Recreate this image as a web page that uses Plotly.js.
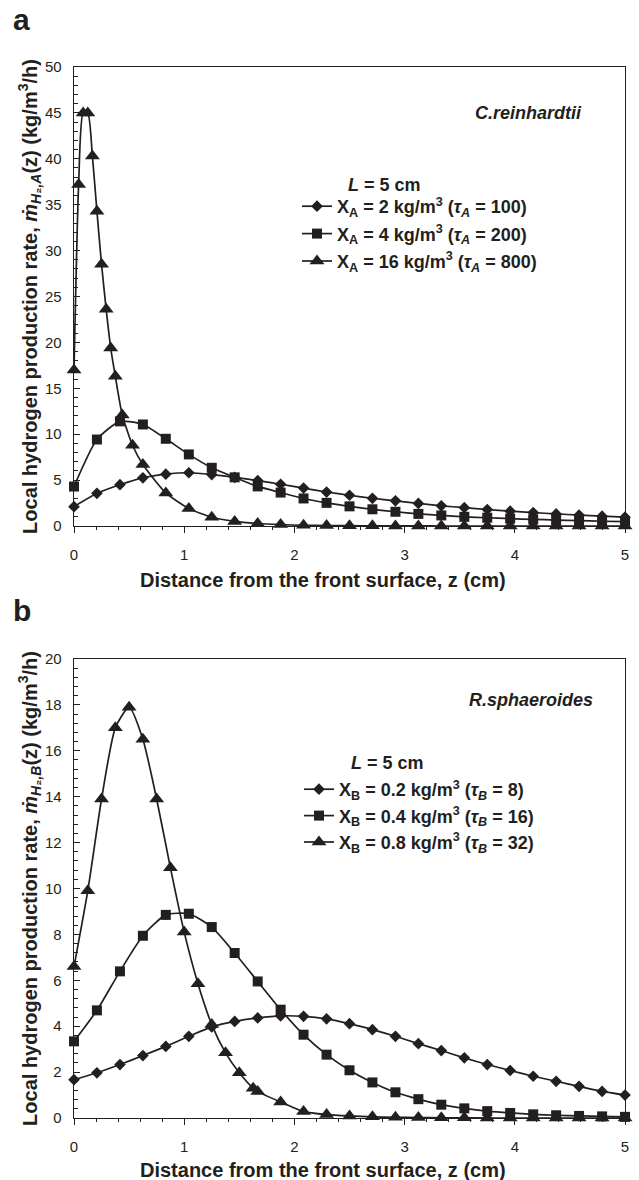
<!DOCTYPE html>
<html>
<head>
<meta charset="utf-8">
<script src="https://cdn.plot.ly/plotly-3.0.1.min.js"></script>
<style>html,body{margin:0;padding:0;background:#fff;}#chart{width:639px;height:1180px;}</style>
</head>
<body>
<div id="chart"></div>
<script>
// ---------- DATA ----------
// common z grid (cm)
const zGrid = [0, 0.208, 0.417, 0.625, 0.833, 1.042, 1.25, 1.458, 1.667, 1.875, 2.083, 2.292, 2.5, 2.708, 2.917, 3.125, 3.333, 3.542, 3.75, 3.958, 4.167, 4.375, 4.583, 4.792, 5];

// Panel a: C.reinhardtii
const zA16 = [0, 0.042, 0.083, 0.125, 0.167, 0.208, 0.25, 0.292, 0.333, 0.375, 0.438, 0.531, 0.625, 0.833, 1.042, 1.25, 1.458, 1.667, 1.875, 2.083, 2.292, 2.5, 2.708, 2.917, 3.125, 3.333, 3.542, 3.75, 3.958, 4.167, 4.375, 4.583, 4.792, 5];
const rateA2  = [2.1, 3.56, 4.5, 5.25, 5.65, 5.8, 5.6, 5.3, 4.95, 4.55, 4.13, 3.7, 3.35, 3.02, 2.74, 2.46, 2.2, 2.0, 1.8, 1.62, 1.46, 1.32, 1.19, 1.07, 0.96];
const rateA4  = [4.3, 9.42, 11.4, 11.06, 9.5, 7.8, 6.34, 5.3, 4.31, 3.64, 3.0, 2.52, 2.14, 1.82, 1.55, 1.32, 1.15, 1.0, 0.9, 0.8, 0.72, 0.65, 0.58, 0.52, 0.47];
const rateA16 = [17.0, 37.2, 45.0, 45.0, 40.3, 34.3, 28.5, 23.6, 19.4, 16.3, 12.1, 8.8, 6.7, 3.6, 1.9, 0.95, 0.5, 0.27, 0.15, 0.08, 0.05, 0.03, 0.02, 0.01, 0.01, 0, 0, 0, 0, 0, 0, 0, 0, 0];

// Panel b: R.sphaeroides
const zB08 = [0, 0.125, 0.25, 0.375, 0.5, 0.625, 0.75, 0.875, 1.0, 1.125, 1.25, 1.375, 1.5, 1.625, 1.667, 1.875, 2.083, 2.292, 2.5, 2.708, 2.917, 3.125, 3.333, 3.542, 3.75, 3.958, 4.167, 4.375, 4.583, 4.792, 5];
const rateB02 = [1.67, 1.97, 2.33, 2.72, 3.12, 3.56, 3.97, 4.21, 4.36, 4.45, 4.43, 4.32, 4.11, 3.85, 3.56, 3.24, 2.94, 2.62, 2.33, 2.07, 1.82, 1.6, 1.38, 1.16, 1.0];
const rateB04 = [3.34, 4.69, 6.39, 7.94, 8.85, 8.9, 8.32, 7.19, 5.95, 4.72, 3.63, 2.76, 2.08, 1.55, 1.12, 0.82, 0.58, 0.42, 0.3, 0.22, 0.16, 0.12, 0.09, 0.07, 0.05];
const rateB08 = [6.6, 9.9, 13.9, 17.0, 17.9, 16.5, 13.9, 10.9, 8.1, 5.85, 4.07, 2.84, 1.97, 1.3, 1.15, 0.7, 0.28, 0.15, 0.09, 0.05, 0.03, 0.02, 0.01, 0.01, 0, 0, 0, 0, 0, 0, 0];

const namesA = ['X<sub>A</sub> = 2 kg/m<sup>3</sup> (<i>τ</i><sub><i>A</i></sub> = 100)',
                'X<sub>A</sub> = 4 kg/m<sup>3</sup> (<i>τ</i><sub><i>A</i></sub> = 200)',
                'X<sub>A</sub> = 16 kg/m<sup>3</sup> (<i>τ</i><sub><i>A</i></sub> = 800)'];
const namesB = ['X<sub>B</sub> = 0.2 kg/m<sup>3</sup> (<i>τ</i><sub><i>B</i></sub> = 8)',
                'X<sub>B</sub> = 0.4 kg/m<sup>3</sup> (<i>τ</i><sub><i>B</i></sub> = 16)',
                'X<sub>B</sub> = 0.8 kg/m<sup>3</sup> (<i>τ</i><sub><i>B</i></sub> = 32)'];
const xTickVals = [0, 1, 2, 3, 4, 5];

// ---------- STYLE ----------
const INK = '#231f20';
const FONT = 'Liberation Sans, Arial, Helvetica, sans-serif';
const symbols = ['diamond', 'square', 'triangle-up'];
const sizes = [9, 10, 13];

function mk(x, y, i, name, xa, ya, leg, grp) {
  return {
    x: x, y: y, name: name, type: 'scatter', mode: 'lines+markers',
    xaxis: xa, yaxis: ya, legend: leg, legendgroup: grp,
    line: {color: INK, width: 1.7, shape: 'spline', smoothing: 0.6},
    marker: {symbol: symbols[i], size: sizes[i], color: INK, line: {width: 0}},
    cliponaxis: false, hoverinfo: 'x+y'
  };
}

const data = [
  mk(zGrid, rateA2, 0, namesA[0], 'x', 'y', 'legend', 'a0'),
  mk(zGrid, rateA4, 1, namesA[1], 'x', 'y', 'legend', 'a1'),
  mk(zA16, rateA16, 2, namesA[2], 'x', 'y', 'legend', 'a2'),
  mk(zGrid, rateB02, 0, namesB[0], 'x2', 'y2', 'legend2', 'b0'),
  mk(zGrid, rateB04, 1, namesB[1], 'x2', 'y2', 'legend2', 'b1'),
  mk(zB08, rateB08, 2, namesB[2], 'x2', 'y2', 'legend2', 'b2')
];

const L = 74, R = 14, T = 67, B = 62, W = 639, H = 1180;
const PW = W - L - R, PH = H - T - B;
const px = v => (v - L) / PW;
const py = v => 1 - (v - T) / PH;

function xax(anchor) {
  return {
    anchor: anchor, domain: [0, 1], range: [0, 5], tickvals: xTickVals,
    ticks: 'outside', ticklen: 6, tickwidth: 1, tickcolor: INK,
    minor: {dtick: 0.2, tick0: 0, ticks: 'outside', ticklen: 3, tickwidth: 1, tickcolor: INK},
    ticklabelstandoff: 9,
    showline: true, mirror: true, linecolor: INK, linewidth: 1.3,
    showgrid: false, zeroline: false,
    tickfont: {family: FONT, size: 15, color: INK}
  };
}
function yax(anchor, dom, range, dtick, minorD, title) {
  return {
    anchor: anchor, domain: dom, range: range, dtick: dtick,
    ticks: 'inside', ticklen: 6, tickwidth: 1, tickcolor: INK,
    minor: {dtick: minorD, ticks: 'inside', ticklen: 4, tickwidth: 1, tickcolor: INK},
    ticklabelstandoff: 8,
    showline: true, mirror: true, linecolor: INK, linewidth: 1.3,
    showgrid: false, zeroline: false,
    tickfont: {family: FONT, size: 15, color: INK},
    title: {text: title, font: {family: FONT, size: 20, color: INK, weight: 'bold'}, standoff: 2}
  };
}

const yTitleA = 'Local hydrogen production rate, <i>ṁ</i><sub><i>H</i>₂<i>,A</i></sub>(z) (kg/m<sup>3</sup>/h)';
const yTitleB = 'Local hydrogen production rate, <i>ṁ</i><sub><i>H</i>₂<i>,B</i></sub>(z) (kg/m<sup>3</sup>/h)';
const xTitle = 'Distance from the front surface, z (cm)';

const bold = (sz, it) => ({family: FONT, size: sz, color: INK, weight: 'bold', style: it ? 'italic' : 'normal'});

const layout = {
  width: W, height: H,
  margin: {l: L, r: R, t: T, b: B},
  paper_bgcolor: '#fff', plot_bgcolor: '#fff',
  font: {family: FONT, color: INK, size: 15},
  showlegend: true,
  xaxis: xax('y'),
  yaxis: yax('x', [1 - (526 - T) / PH, 1], [0, 50], 5, 1, yTitleA),
  xaxis2: xax('y2'),
  yaxis2: yax('x2', [0, py(659)], [0, 20], 2, 0.4, yTitleB),
  legend: {x: px(297), y: py(188), xanchor: 'left', yanchor: 'top', bgcolor: 'rgba(0,0,0,0)',
           font: {family: FONT, size: 18, color: INK, weight: 'bold'}, tracegroupgap: 1, itemwidth: 30},
  legend2: {x: px(299), y: py(771), xanchor: 'left', yanchor: 'top', bgcolor: 'rgba(0,0,0,0)',
           font: {family: FONT, size: 18, color: INK, weight: 'bold'}, tracegroupgap: 0, itemwidth: 30},
  annotations: [
    {text: 'a', xref: 'paper', yref: 'paper', x: px(22), y: py(20), xanchor: 'center', yanchor: 'middle', showarrow: false, font: bold(30)},
    {text: 'b', xref: 'paper', yref: 'paper', x: px(22), y: py(610), xanchor: 'center', yanchor: 'middle', showarrow: false, font: bold(30)},
    {text: 'C.reinhardtii', xref: 'paper', yref: 'paper', x: px(584), y: py(113), xanchor: 'right', yanchor: 'middle', showarrow: false, font: bold(18, true)},
    {text: 'R.sphaeroides', xref: 'paper', yref: 'paper', x: px(595), y: py(700), xanchor: 'right', yanchor: 'middle', showarrow: false, font: bold(18, true)},
    {text: '<i>L</i> = 5 cm', xref: 'paper', yref: 'paper', x: px(385), y: py(185), xanchor: 'center', yanchor: 'middle', showarrow: false, font: bold(18)},
    {text: '<i>L</i> = 5 cm', xref: 'paper', yref: 'paper', x: px(387), y: py(763), xanchor: 'center', yanchor: 'middle', showarrow: false, font: bold(18)},
    {text: xTitle, xref: 'paper', yref: 'paper', x: px(323), y: py(580), xanchor: 'center', yanchor: 'middle', showarrow: false, font: bold(20)},
    {text: xTitle, xref: 'paper', yref: 'paper', x: px(323), y: py(1170), xanchor: 'center', yanchor: 'middle', showarrow: false, font: bold(20)}
  ]
};

Plotly.newPlot('chart', data, layout, {displayModeBar: false, staticPlot: true});
</script>
</body>
</html>
